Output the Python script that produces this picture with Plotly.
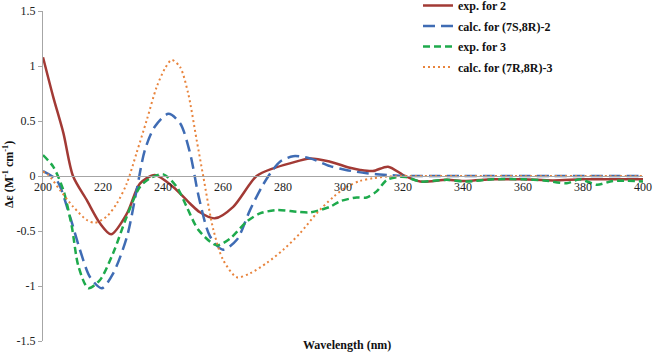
import plotly.graph_objects as go

# exp. for 2
x_exp2 = [200, 203.4, 206.8, 210, 214.6, 219, 222.7, 228, 232.3, 237.3, 243.4, 249, 252.3, 257.3,
          263.4, 271.2, 276.8, 282.3, 289, 295.7, 302.3, 305.7, 310, 315, 320.7, 325.7, 334.6,
          341, 350, 360, 370, 380, 390, 400]
y_exp2 = [1.08, 0.72, 0.39, 0.0, -0.22, -0.43, -0.53, -0.34, -0.07, 0.01, -0.1, -0.25, -0.33, -0.385,
          -0.28, 0.0, 0.07, 0.115, 0.16, 0.13, 0.075, 0.055, 0.045, 0.085, 0.0, -0.05, -0.035,
          -0.045, -0.03, -0.03, -0.04, -0.03, -0.03, -0.03]

# calc. for (7S,8R)-2
x_calc2 = [200, 204.6, 209, 212.3, 215.7, 219.6, 223.4, 228, 231.2, 234, 237.3, 241.8, 245.7, 249,
           252, 255.7, 260, 264.6, 269, 272.9, 276.2, 279, 283.4, 289, 295.7, 301, 307.9, 314.6,
           320, 330, 340, 350, 360, 370, 380, 390, 400]
y_calc2 = [0.045, -0.04, -0.37, -0.67, -0.92, -1.02, -0.885, -0.55, -0.13, 0.24, 0.45, 0.565, 0.48, 0.21,
           -0.2, -0.55, -0.67, -0.58, -0.31, -0.1, 0.04, 0.13, 0.18, 0.16, 0.09, 0.055, 0.025, 0.01,
           0.0, 0.0, 0.0, 0.0, 0.0, 0.0, 0.0, 0.0, 0.0]

# exp. for 3
x_exp3 = [200, 203.4, 206.8, 209.6, 211.8, 215.1, 219, 223.4, 227.9, 232.3, 235.7, 240.1, 244.6, 247.9,
          251.8, 257.9, 262.3, 267.9, 272.3, 277.9, 284.6, 289, 295.7, 299, 304.6, 307.9, 311.2,
          314.6, 317.9, 321, 325.7, 334.6, 341, 350, 360, 367, 374.6, 379, 384.6, 390, 400]
y_exp3 = [0.19, 0.085, -0.13, -0.46, -0.82, -1.02, -0.945, -0.70, -0.37, -0.1, -0.02, 0.015, -0.1, -0.28,
          -0.49, -0.63, -0.57, -0.415, -0.34, -0.31, -0.325, -0.33, -0.28, -0.23, -0.195, -0.195, -0.14,
          -0.035, -0.01, -0.01, -0.05, -0.035, -0.05, -0.03, -0.03, -0.04, -0.065, -0.03, -0.08, -0.045, -0.05]

# calc. for (7R,8R)-3
x_calc3 = [200, 201.8, 205.7, 210.1, 214.6, 217.3, 221.2, 224.6, 227.9, 231.2, 234.6, 237.9, 240.7,
           242.9, 245.7, 248.4, 251.2, 253.4, 256.8, 260, 264.6, 269, 274.6, 280.1, 285.7, 291.2,
           296.8, 301.2, 305.7, 310, 315, 320, 340, 360, 380, 400]
y_calc3 = [0.04, 0.01, -0.13, -0.28, -0.4, -0.425, -0.37, -0.25, -0.07, 0.21, 0.51, 0.81, 0.98,
           1.055, 0.99, 0.75, 0.33, 0.0, -0.49, -0.76, -0.92, -0.885, -0.79, -0.67, -0.52, -0.34,
           -0.19, -0.1, -0.045, -0.02, -0.005, 0.0, 0.0, 0.0, 0.0, 0.0]

x_ticks = [200, 220, 240, 260, 280, 300, 320, 340, 360, 380, 400]
y_ticks = [-1.5, -1, -0.5, 0, 0.5, 1, 1.5]
y_tick_text = ["-1.5", "-1", "-0.5", "0", "0.5", "1", "1.5"]

series = [
    ("exp. for 2", x_exp2, y_exp2, "#A23A35", "solid", 2.5),
    ("calc. for (7S,8R)-2", x_calc2, y_calc2, "#3F6CB4", "12px,6px", 2.5),
    ("exp. for 3", x_exp3, y_exp3, "#1EAA4C", "7px,4px", 2.5),
    ("calc. for (7R,8R)-3", x_calc3, y_calc3, "#E8843D", "2px,3px", 2),
]

fig = go.Figure()
for i, (name, xs, ys, col, dash, w) in enumerate(series):
    fig.add_trace(go.Scatter(x=xs, y=ys, name=name, mode="lines", legendgroup=f"g{i}",
                             line=dict(color=col, dash=dash, width=w, shape="spline", smoothing=0.8)))

font_serif = "Liberation Serif, Times New Roman, serif"
W, H = 659, 357
xdom = [43 / W, 643 / W]
ydom = [16 / H, 1 - 11 / H]

fig.update_layout(
    width=W, height=H,
    margin=dict(l=0, r=0, t=0, b=0, autoexpand=False),
    paper_bgcolor="white", plot_bgcolor="white",
    font=dict(family=font_serif, size=12, color="#222"),
    showlegend=True,
    legend=dict(x=418 / W, y=1 + 9 / H, xanchor="left", yanchor="top",
                bgcolor="rgba(0,0,0,0)", itemwidth=30, tracegroupgap=1.5,
                font=dict(family=font_serif, size=12, color="#111", weight="bold")),
    xaxis=dict(domain=xdom, range=[200, 400], tickvals=x_ticks, showgrid=False, zeroline=False,
               showline=True, linecolor="#A6A6A6", linewidth=1, automargin=False,
               anchor="free", position=(ydom[0] + ydom[1]) / 2, ticks="",
               tickfont=dict(size=12, color="#222")),
    yaxis=dict(domain=ydom, range=[-1.5, 1.5], tickvals=y_ticks, ticktext=y_tick_text, showgrid=False,
               zeroline=False, showline=True, linecolor="#A6A6A6", linewidth=1, automargin=False,
               ticks="outside", ticklen=4, tickcolor="#A6A6A6", tickfont=dict(size=12, color="#222")),
    annotations=[
        dict(text="Wavelength (nm)", xref="paper", yref="paper", x=347 / W, y=1 - 345 / H,
             xanchor="center", yanchor="middle", showarrow=False,
             font=dict(family=font_serif, size=12, color="#111", weight="bold")),
        dict(text="Δε (M<sup>-1</sup> cm<sup>-1</sup>)", xref="paper", yref="paper",
             x=8 / W, y=1 - 175 / H, textangle=-90, xanchor="center", yanchor="middle",
             showarrow=False,
             font=dict(family=font_serif, size=12, color="#111", weight="bold")),
    ],
)

fig.write_html("out.html", config={"displayModeBar": False},
               post_script="document.body.style.margin='0';document.body.style.overflow='hidden';")
